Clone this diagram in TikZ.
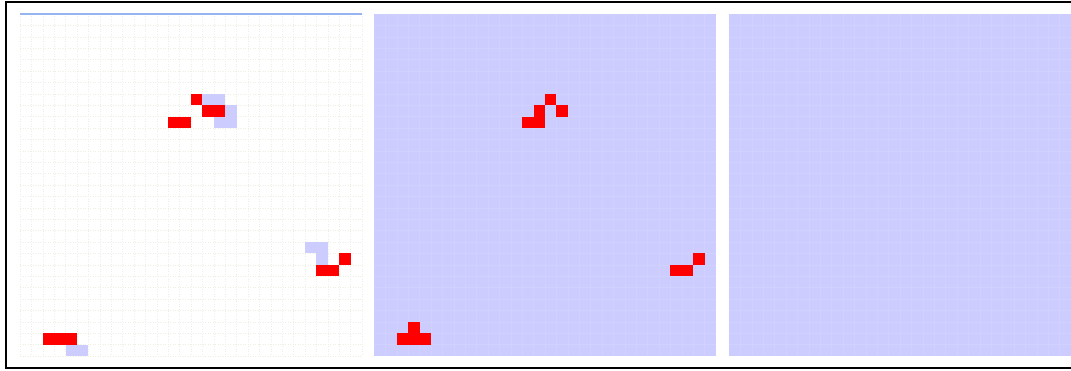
\documentclass[tikz,border=0pt]{standalone}
\usetikzlibrary{positioning}
\definecolor{lifeblue}{RGB}{204,204,255}
\definecolor{lifered}{RGB}{255,0,0}
\definecolor{gridfaint}{RGB}{238,238,226}
\definecolor{gridpale}{RGB}{209,209,255}
\definecolor{edgeblue}{RGB}{150,180,240}

\begin{document}
\begin{tikzpicture}[x=1pt, y=-1pt,
    alive/.style={fill=lifered},
    ghost/.style={fill=lifeblue},
    board/.style={fill=lifeblue},
    faint/.style={draw=gridfaint, line width=0.5pt, dotted},
    pale/.style={draw=gridpale, line width=0.4pt}
]
\def\cs{11.4}
\useasboundingbox (0,0) rectangle (1071,371);
\fill[white] (0,0) rectangle (1071,371);

% three boards
\coordinate (now) at (20,14);
\coordinate (next) at (374,14);
\coordinate (last) at (729,14);

% first board: white with faint grid
\foreach \i in {0,...,30} {
  \draw[faint] ([shift={(\i*\cs,0)}]now) -- ++(0,342);
  \draw[faint] ([shift={(0,\i*\cs)}]now) -- ++(342,0);
}
\draw[edgeblue, line width=1.2pt] (now) -- ++(342,0);

% second and third boards: blue
\foreach \b in {next,last} {
  \fill[board] (\b) rectangle ++(342,342);
  \foreach \i in {1,...,29} {
    \draw[pale] ([shift={(\i*\cs,0)}]\b) -- ++(0,342);
    \draw[pale] ([shift={(0,\i*\cs)}]\b) -- ++(342,0);
  }
}

% cells on the first board
\foreach \c/\r in {16/7,17/7,18/8,17/9,18/9,25/20,26/20,26/21,4/29,5/29}
  \fill[ghost] ([shift={(\c*\cs,\r*\cs)}]now) rectangle ++(\cs,\cs);
\foreach \c/\r in {15/7,16/8,17/8,13/9,14/9,26/22,27/22,28/21,2/28,3/28,4/28}
  \fill[alive] ([shift={(\c*\cs,\r*\cs)}]now) rectangle ++(\cs,\cs);

% cells on the second board
\foreach \c/\r in {15/7,16/8,14/8,14/9,13/9,26/22,27/22,28/21,3/27,2/28,3/28,4/28}
  \fill[alive] ([shift={(\c*\cs,\r*\cs)}]next) rectangle ++(\cs,\cs);

% outer frame
\draw[line width=2pt] (6,2) rectangle (1085,368);
\end{tikzpicture}
\end{document}
